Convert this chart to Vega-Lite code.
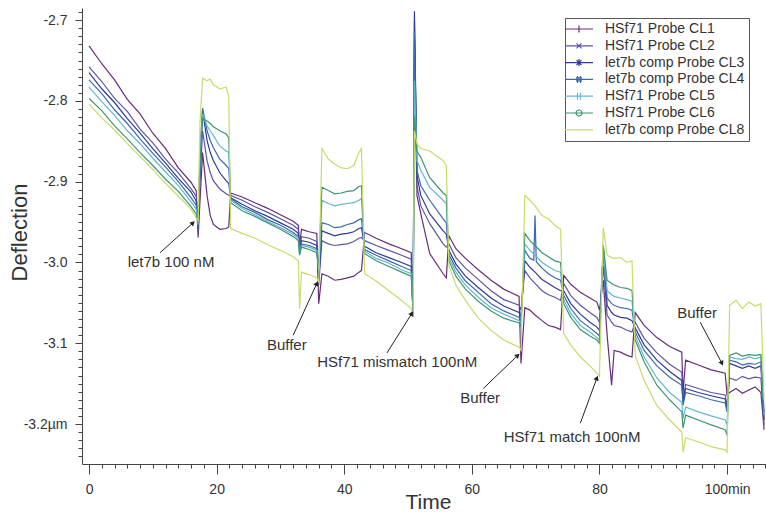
{
"$schema":"https://vega.github.io/schema/vega-lite/v6.json",
"width":684,"height":456,
"autosize":{"type":"none"},
"padding":{"left":82,"top":8,"right":0,"bottom":49},
"background":"white",
"config":{"view":{"stroke":null},"font":"Liberation Sans"},
"datasets":{
"series":[
{"s":"CL1","t":0,"v":-2.732},{"s":"CL1","t":2,"v":-2.754},{"s":"CL1","t":4,"v":-2.774},{"s":"CL1","t":6,"v":-2.798},{"s":"CL1","t":8,"v":-2.816},{"s":"CL1","t":10,"v":-2.840},{"s":"CL1","t":12,"v":-2.859},{"s":"CL1","t":14,"v":-2.883},{"s":"CL1","t":16,"v":-2.901},{"s":"CL1","t":16.8,"v":-2.911},
{"s":"CL1","t":17.1,"v":-2.969},{"s":"CL1","t":17.4,"v":-2.923},{"s":"CL1","t":17.8,"v":-2.864},{"s":"CL1","t":18.5,"v":-2.917},{"s":"CL1","t":19,"v":-2.942},{"s":"CL1","t":19.5,"v":-2.953},{"s":"CL1","t":20.5,"v":-2.959},{"s":"CL1","t":21.5,"v":-2.958},{"s":"CL1","t":21.9,"v":-2.956},
{"s":"CL1","t":22.2,"v":-2.914},{"s":"CL1","t":24,"v":-2.919},{"s":"CL1","t":26,"v":-2.926},{"s":"CL1","t":28,"v":-2.933},{"s":"CL1","t":30,"v":-2.941},{"s":"CL1","t":32,"v":-2.949},{"s":"CL1","t":32.8,"v":-2.954},
{"s":"CL1","t":33,"v":-2.979},{"s":"CL1","t":33.3,"v":-2.959},{"s":"CL1","t":34.5,"v":-2.962},{"s":"CL1","t":35.7,"v":-2.964},
{"s":"CL1","t":36,"v":-3.051},{"s":"CL1","t":36.5,"v":-3.014},{"s":"CL1","t":37.5,"v":-3.017},{"s":"CL1","t":38.5,"v":-3.022},{"s":"CL1","t":39.5,"v":-3.021},{"s":"CL1","t":40.5,"v":-3.019},{"s":"CL1","t":41.5,"v":-3.017},{"s":"CL1","t":42.3,"v":-3.012},{"s":"CL1","t":42.7,"v":-3.010},
{"s":"CL1","t":43.2,"v":-2.963},{"s":"CL1","t":45,"v":-2.970},{"s":"CL1","t":47,"v":-2.977},{"s":"CL1","t":49,"v":-2.983},{"s":"CL1","t":50.5,"v":-2.988},
{"s":"CL1","t":50.8,"v":-3.067},{"s":"CL1","t":51,"v":-2.726},{"s":"CL1","t":51.4,"v":-2.917},{"s":"CL1","t":52,"v":-2.940},{"s":"CL1","t":53.4,"v":-2.989},{"s":"CL1","t":55.5,"v":-3.014},{"s":"CL1","t":56,"v":-3.019},
{"s":"CL1","t":56.4,"v":-2.967},{"s":"CL1","t":57.5,"v":-2.983},{"s":"CL1","t":59,"v":-2.995},{"s":"CL1","t":61,"v":-3.009},{"s":"CL1","t":63,"v":-3.022},{"s":"CL1","t":65,"v":-3.033},{"s":"CL1","t":67.4,"v":-3.042},
{"s":"CL1","t":67.7,"v":-3.125},{"s":"CL1","t":68.3,"v":-3.056},{"s":"CL1","t":69.1,"v":-3.059},{"s":"CL1","t":69.9,"v":-3.065},{"s":"CL1","t":71,"v":-3.072},{"s":"CL1","t":72,"v":-3.078},{"s":"CL1","t":73,"v":-3.080},{"s":"CL1","t":73.9,"v":-3.083},
{"s":"CL1","t":74.4,"v":-3.016},{"s":"CL1","t":75.5,"v":-3.027},{"s":"CL1","t":77,"v":-3.037},{"s":"CL1","t":78.5,"v":-3.044},{"s":"CL1","t":79.6,"v":-3.049},
{"s":"CL1","t":80,"v":-3.059},{"s":"CL1","t":80.6,"v":-3.022},{"s":"CL1","t":81.2,"v":-3.090},{"s":"CL1","t":81.9,"v":-3.152},{"s":"CL1","t":82.3,"v":-3.109},{"s":"CL1","t":83.3,"v":-3.111},{"s":"CL1","t":84.3,"v":-3.115},{"s":"CL1","t":85.1,"v":-3.117},
{"s":"CL1","t":85.6,"v":-3.062},{"s":"CL1","t":87,"v":-3.078},{"s":"CL1","t":89,"v":-3.093},{"s":"CL1","t":91,"v":-3.104},{"s":"CL1","t":92.9,"v":-3.111},
{"s":"CL1","t":93.1,"v":-3.162},{"s":"CL1","t":93.5,"v":-3.121},{"s":"CL1","t":95.5,"v":-3.127},{"s":"CL1","t":97.5,"v":-3.133},{"s":"CL1","t":99.7,"v":-3.137},
{"s":"CL1","t":100,"v":-3.164},{"s":"CL1","t":100.4,"v":-3.161},{"s":"CL1","t":101.4,"v":-3.156},{"s":"CL1","t":102.4,"v":-3.162},{"s":"CL1","t":103.4,"v":-3.158},{"s":"CL1","t":104.4,"v":-3.154},{"s":"CL1","t":105.3,"v":-3.161},{"s":"CL1","t":105.8,"v":-3.207},
{"s":"CL2","t":0,"v":-2.758},{"s":"CL2","t":2,"v":-2.776},{"s":"CL2","t":4,"v":-2.797},{"s":"CL2","t":6,"v":-2.813},{"s":"CL2","t":8,"v":-2.835},{"s":"CL2","t":10,"v":-2.852},{"s":"CL2","t":12,"v":-2.872},{"s":"CL2","t":14,"v":-2.889},{"s":"CL2","t":16,"v":-2.909},{"s":"CL2","t":16.8,"v":-2.918},
{"s":"CL2","t":17.1,"v":-2.961},{"s":"CL2","t":17.4,"v":-2.899},{"s":"CL2","t":17.8,"v":-2.837},{"s":"CL2","t":18.5,"v":-2.874},{"s":"CL2","t":19,"v":-2.889},{"s":"CL2","t":19.5,"v":-2.899},{"s":"CL2","t":20.5,"v":-2.909},{"s":"CL2","t":21.5,"v":-2.915},{"s":"CL2","t":21.9,"v":-2.917},
{"s":"CL2","t":22.2,"v":-2.917},{"s":"CL2","t":24,"v":-2.923},{"s":"CL2","t":26,"v":-2.931},{"s":"CL2","t":28,"v":-2.938},{"s":"CL2","t":30,"v":-2.946},{"s":"CL2","t":32,"v":-2.954},{"s":"CL2","t":32.8,"v":-2.959},
{"s":"CL2","t":33,"v":-2.983},{"s":"CL2","t":33.3,"v":-2.968},{"s":"CL2","t":34.5,"v":-2.970},{"s":"CL2","t":35.7,"v":-2.974},
{"s":"CL2","t":36,"v":-3.028},{"s":"CL2","t":36.5,"v":-2.973},{"s":"CL2","t":37.5,"v":-2.977},{"s":"CL2","t":38.5,"v":-2.979},{"s":"CL2","t":39.5,"v":-2.978},{"s":"CL2","t":40.5,"v":-2.977},{"s":"CL2","t":41.5,"v":-2.974},{"s":"CL2","t":42.3,"v":-2.970},{"s":"CL2","t":42.7,"v":-2.969},
{"s":"CL2","t":43.2,"v":-2.973},{"s":"CL2","t":45,"v":-2.979},{"s":"CL2","t":47,"v":-2.985},{"s":"CL2","t":49,"v":-2.991},{"s":"CL2","t":50.5,"v":-2.996},
{"s":"CL2","t":50.8,"v":-3.067},{"s":"CL2","t":51,"v":-2.701},{"s":"CL2","t":51.4,"v":-2.905},{"s":"CL2","t":52,"v":-2.930},{"s":"CL2","t":53.4,"v":-2.952},{"s":"CL2","t":55.5,"v":-2.977},{"s":"CL2","t":56,"v":-2.981},
{"s":"CL2","t":56.4,"v":-2.977},{"s":"CL2","t":57.5,"v":-2.994},{"s":"CL2","t":59,"v":-3.007},{"s":"CL2","t":61,"v":-3.021},{"s":"CL2","t":63,"v":-3.035},{"s":"CL2","t":65,"v":-3.046},{"s":"CL2","t":67.4,"v":-3.053},
{"s":"CL2","t":67.7,"v":-3.059},{"s":"CL2","t":68.3,"v":-3.010},{"s":"CL2","t":69.1,"v":-3.019},{"s":"CL2","t":69.9,"v":-3.026},{"s":"CL2","t":71,"v":-3.035},{"s":"CL2","t":72,"v":-3.040},{"s":"CL2","t":73,"v":-3.043},{"s":"CL2","t":73.9,"v":-3.047},
{"s":"CL2","t":74.4,"v":-3.026},{"s":"CL2","t":75.5,"v":-3.041},{"s":"CL2","t":77,"v":-3.053},{"s":"CL2","t":78.5,"v":-3.062},{"s":"CL2","t":79.6,"v":-3.068},
{"s":"CL2","t":80,"v":-3.074},{"s":"CL2","t":80.6,"v":-3.004},{"s":"CL2","t":81.2,"v":-3.065},{"s":"CL2","t":81.9,"v":-3.074},{"s":"CL2","t":82.3,"v":-3.078},{"s":"CL2","t":83.3,"v":-3.080},{"s":"CL2","t":84.3,"v":-3.084},{"s":"CL2","t":85.1,"v":-3.086},
{"s":"CL2","t":85.6,"v":-3.074},{"s":"CL2","t":87,"v":-3.094},{"s":"CL2","t":89,"v":-3.112},{"s":"CL2","t":91,"v":-3.126},{"s":"CL2","t":92.9,"v":-3.136},
{"s":"CL2","t":93.1,"v":-3.170},{"s":"CL2","t":93.5,"v":-3.151},{"s":"CL2","t":95.5,"v":-3.156},{"s":"CL2","t":97.5,"v":-3.161},{"s":"CL2","t":99.7,"v":-3.164},
{"s":"CL2","t":100,"v":-3.177},{"s":"CL2","t":100.4,"v":-3.143},{"s":"CL2","t":101.4,"v":-3.146},{"s":"CL2","t":102.4,"v":-3.141},{"s":"CL2","t":103.4,"v":-3.144},{"s":"CL2","t":104.4,"v":-3.142},{"s":"CL2","t":105.3,"v":-3.143},{"s":"CL2","t":105.8,"v":-3.201},
{"s":"CL3","t":0,"v":-2.765},{"s":"CL3","t":2,"v":-2.785},{"s":"CL3","t":4,"v":-2.802},{"s":"CL3","t":6,"v":-2.822},{"s":"CL3","t":8,"v":-2.840},{"s":"CL3","t":10,"v":-2.859},{"s":"CL3","t":12,"v":-2.877},{"s":"CL3","t":14,"v":-2.896},{"s":"CL3","t":16,"v":-2.913},{"s":"CL3","t":16.8,"v":-2.924},
{"s":"CL3","t":17.1,"v":-2.958},{"s":"CL3","t":17.4,"v":-2.874},{"s":"CL3","t":17.8,"v":-2.812},{"s":"CL3","t":18.5,"v":-2.849},{"s":"CL3","t":19,"v":-2.864},{"s":"CL3","t":19.5,"v":-2.874},{"s":"CL3","t":20.5,"v":-2.889},{"s":"CL3","t":21.5,"v":-2.899},{"s":"CL3","t":21.9,"v":-2.902},
{"s":"CL3","t":22.2,"v":-2.920},{"s":"CL3","t":24,"v":-2.928},{"s":"CL3","t":26,"v":-2.936},{"s":"CL3","t":28,"v":-2.943},{"s":"CL3","t":30,"v":-2.951},{"s":"CL3","t":32,"v":-2.959},{"s":"CL3","t":32.8,"v":-2.964},
{"s":"CL3","t":33,"v":-2.985},{"s":"CL3","t":33.3,"v":-2.973},{"s":"CL3","t":34.5,"v":-2.975},{"s":"CL3","t":35.7,"v":-2.979},
{"s":"CL3","t":36,"v":-3.022},{"s":"CL3","t":36.5,"v":-2.961},{"s":"CL3","t":37.5,"v":-2.964},{"s":"CL3","t":38.5,"v":-2.967},{"s":"CL3","t":39.5,"v":-2.965},{"s":"CL3","t":40.5,"v":-2.964},{"s":"CL3","t":41.5,"v":-2.962},{"s":"CL3","t":42.3,"v":-2.958},{"s":"CL3","t":42.7,"v":-2.957},
{"s":"CL3","t":43.2,"v":-2.980},{"s":"CL3","t":45,"v":-2.988},{"s":"CL3","t":47,"v":-2.994},{"s":"CL3","t":49,"v":-3.000},{"s":"CL3","t":50.5,"v":-3.005},
{"s":"CL3","t":50.8,"v":-3.065},{"s":"CL3","t":51,"v":-2.689},{"s":"CL3","t":51.4,"v":-2.893},{"s":"CL3","t":52,"v":-2.917},{"s":"CL3","t":53.4,"v":-2.940},{"s":"CL3","t":55.5,"v":-2.961},{"s":"CL3","t":56,"v":-2.965},
{"s":"CL3","t":56.4,"v":-2.985},{"s":"CL3","t":57.5,"v":-3.002},{"s":"CL3","t":59,"v":-3.017},{"s":"CL3","t":61,"v":-3.031},{"s":"CL3","t":63,"v":-3.044},{"s":"CL3","t":65,"v":-3.054},{"s":"CL3","t":67.4,"v":-3.062},
{"s":"CL3","t":67.7,"v":-3.067},{"s":"CL3","t":68.3,"v":-2.998},{"s":"CL3","t":69.1,"v":-3.006},{"s":"CL3","t":69.9,"v":-3.012},{"s":"CL3","t":71,"v":-3.021},{"s":"CL3","t":72,"v":-3.026},{"s":"CL3","t":73,"v":-3.031},{"s":"CL3","t":73.9,"v":-3.035},
{"s":"CL3","t":74.4,"v":-3.035},{"s":"CL3","t":75.5,"v":-3.051},{"s":"CL3","t":77,"v":-3.064},{"s":"CL3","t":78.5,"v":-3.074},{"s":"CL3","t":79.6,"v":-3.080},
{"s":"CL3","t":80,"v":-3.084},{"s":"CL3","t":80.6,"v":-2.979},{"s":"CL3","t":81.2,"v":-3.053},{"s":"CL3","t":81.9,"v":-3.062},{"s":"CL3","t":82.3,"v":-3.065},{"s":"CL3","t":83.3,"v":-3.068},{"s":"CL3","t":84.3,"v":-3.069},{"s":"CL3","t":85.1,"v":-3.072},
{"s":"CL3","t":85.6,"v":-3.081},{"s":"CL3","t":87,"v":-3.102},{"s":"CL3","t":89,"v":-3.121},{"s":"CL3","t":91,"v":-3.135},{"s":"CL3","t":92.9,"v":-3.146},
{"s":"CL3","t":93.1,"v":-3.173},{"s":"CL3","t":93.5,"v":-3.156},{"s":"CL3","t":95.5,"v":-3.161},{"s":"CL3","t":97.5,"v":-3.165},{"s":"CL3","t":99.7,"v":-3.169},
{"s":"CL3","t":100,"v":-3.183},{"s":"CL3","t":100.4,"v":-3.125},{"s":"CL3","t":101.4,"v":-3.128},{"s":"CL3","t":102.4,"v":-3.131},{"s":"CL3","t":103.4,"v":-3.128},{"s":"CL3","t":104.4,"v":-3.131},{"s":"CL3","t":105.3,"v":-3.128},{"s":"CL3","t":105.8,"v":-3.195},
{"s":"CL4","t":0,"v":-2.774},{"s":"CL4","t":2,"v":-2.791},{"s":"CL4","t":4,"v":-2.811},{"s":"CL4","t":6,"v":-2.828},{"s":"CL4","t":8,"v":-2.847},{"s":"CL4","t":10,"v":-2.865},{"s":"CL4","t":12,"v":-2.882},{"s":"CL4","t":14,"v":-2.900},{"s":"CL4","t":16,"v":-2.920},{"s":"CL4","t":16.8,"v":-2.929},
{"s":"CL4","t":17.1,"v":-2.956},{"s":"CL4","t":17.4,"v":-2.862},{"s":"CL4","t":17.8,"v":-2.809},{"s":"CL4","t":18.5,"v":-2.837},{"s":"CL4","t":19,"v":-2.849},{"s":"CL4","t":19.5,"v":-2.858},{"s":"CL4","t":20.5,"v":-2.872},{"s":"CL4","t":21.5,"v":-2.880},{"s":"CL4","t":21.9,"v":-2.884},
{"s":"CL4","t":22.2,"v":-2.921},{"s":"CL4","t":24,"v":-2.931},{"s":"CL4","t":26,"v":-2.938},{"s":"CL4","t":28,"v":-2.947},{"s":"CL4","t":30,"v":-2.954},{"s":"CL4","t":32,"v":-2.963},{"s":"CL4","t":32.8,"v":-2.968},
{"s":"CL4","t":33,"v":-2.988},{"s":"CL4","t":33.3,"v":-2.977},{"s":"CL4","t":34.5,"v":-2.979},{"s":"CL4","t":35.7,"v":-2.983},
{"s":"CL4","t":36,"v":-3.016},{"s":"CL4","t":36.5,"v":-2.951},{"s":"CL4","t":37.5,"v":-2.953},{"s":"CL4","t":38.5,"v":-2.957},{"s":"CL4","t":39.5,"v":-2.956},{"s":"CL4","t":40.5,"v":-2.953},{"s":"CL4","t":41.5,"v":-2.951},{"s":"CL4","t":42.3,"v":-2.947},{"s":"CL4","t":42.7,"v":-2.946},
{"s":"CL4","t":43.2,"v":-2.984},{"s":"CL4","t":45,"v":-2.991},{"s":"CL4","t":47,"v":-2.998},{"s":"CL4","t":49,"v":-3.005},{"s":"CL4","t":50.5,"v":-3.010},
{"s":"CL4","t":50.8,"v":-3.064},{"s":"CL4","t":51,"v":-2.714},{"s":"CL4","t":51.4,"v":-2.886},{"s":"CL4","t":52,"v":-2.905},{"s":"CL4","t":53.4,"v":-2.923},{"s":"CL4","t":55.5,"v":-2.946},{"s":"CL4","t":56,"v":-2.951},
{"s":"CL4","t":56.4,"v":-2.990},{"s":"CL4","t":57.5,"v":-3.007},{"s":"CL4","t":59,"v":-3.023},{"s":"CL4","t":61,"v":-3.037},{"s":"CL4","t":63,"v":-3.051},{"s":"CL4","t":65,"v":-3.060},{"s":"CL4","t":67.4,"v":-3.068},
{"s":"CL4","t":67.7,"v":-3.072},{"s":"CL4","t":68.3,"v":-2.985},{"s":"CL4","t":69.1,"v":-2.995},{"s":"CL4","t":69.7,"v":-2.997},{"s":"CL4","t":69.9,"v":-2.942},{"s":"CL4","t":70.1,"v":-2.999},{"s":"CL4","t":71,"v":-3.007},{"s":"CL4","t":72,"v":-3.014},{"s":"CL4","t":73,"v":-3.019},{"s":"CL4","t":73.9,"v":-3.022},
{"s":"CL4","t":74.4,"v":-3.041},{"s":"CL4","t":75.5,"v":-3.057},{"s":"CL4","t":77,"v":-3.072},{"s":"CL4","t":78.5,"v":-3.081},{"s":"CL4","t":79.6,"v":-3.088},
{"s":"CL4","t":80,"v":-3.091},{"s":"CL4","t":80.6,"v":-2.985},{"s":"CL4","t":81.2,"v":-3.044},{"s":"CL4","t":81.9,"v":-3.051},{"s":"CL4","t":82.3,"v":-3.053},{"s":"CL4","t":83.3,"v":-3.056},{"s":"CL4","t":84.3,"v":-3.057},{"s":"CL4","t":85.1,"v":-3.059},
{"s":"CL4","t":85.6,"v":-3.086},{"s":"CL4","t":87,"v":-3.109},{"s":"CL4","t":89,"v":-3.128},{"s":"CL4","t":91,"v":-3.142},{"s":"CL4","t":92.9,"v":-3.152},
{"s":"CL4","t":93.1,"v":-3.177},{"s":"CL4","t":93.5,"v":-3.161},{"s":"CL4","t":95.5,"v":-3.165},{"s":"CL4","t":97.5,"v":-3.170},{"s":"CL4","t":99.7,"v":-3.174},
{"s":"CL4","t":100,"v":-3.185},{"s":"CL4","t":100.4,"v":-3.121},{"s":"CL4","t":101.4,"v":-3.123},{"s":"CL4","t":102.4,"v":-3.127},{"s":"CL4","t":103.4,"v":-3.125},{"s":"CL4","t":104.4,"v":-3.126},{"s":"CL4","t":105.3,"v":-3.123},{"s":"CL4","t":105.8,"v":-3.193},
{"s":"CL5","t":0,"v":-2.783},{"s":"CL5","t":2,"v":-2.801},{"s":"CL5","t":4,"v":-2.818},{"s":"CL5","t":6,"v":-2.837},{"s":"CL5","t":8,"v":-2.853},{"s":"CL5","t":10,"v":-2.871},{"s":"CL5","t":12,"v":-2.888},{"s":"CL5","t":14,"v":-2.905},{"s":"CL5","t":16,"v":-2.925},{"s":"CL5","t":16.8,"v":-2.934},
{"s":"CL5","t":17.1,"v":-2.953},{"s":"CL5","t":17.4,"v":-2.862},{"s":"CL5","t":17.8,"v":-2.816},{"s":"CL5","t":18.5,"v":-2.831},{"s":"CL5","t":19,"v":-2.837},{"s":"CL5","t":19.5,"v":-2.843},{"s":"CL5","t":20.5,"v":-2.856},{"s":"CL5","t":21.5,"v":-2.862},{"s":"CL5","t":21.9,"v":-2.864},
{"s":"CL5","t":22.2,"v":-2.923},{"s":"CL5","t":24,"v":-2.933},{"s":"CL5","t":26,"v":-2.941},{"s":"CL5","t":28,"v":-2.949},{"s":"CL5","t":30,"v":-2.957},{"s":"CL5","t":32,"v":-2.965},{"s":"CL5","t":32.8,"v":-2.970},
{"s":"CL5","t":33,"v":-2.989},{"s":"CL5","t":33.3,"v":-2.979},{"s":"CL5","t":34.5,"v":-2.981},{"s":"CL5","t":35.7,"v":-2.985},
{"s":"CL5","t":36,"v":-3.010},{"s":"CL5","t":36.5,"v":-2.923},{"s":"CL5","t":37.5,"v":-2.927},{"s":"CL5","t":38.5,"v":-2.930},{"s":"CL5","t":39.5,"v":-2.928},{"s":"CL5","t":40.5,"v":-2.927},{"s":"CL5","t":41.5,"v":-2.926},{"s":"CL5","t":42.3,"v":-2.923},{"s":"CL5","t":42.7,"v":-2.921},
{"s":"CL5","t":43.2,"v":-2.986},{"s":"CL5","t":45,"v":-2.995},{"s":"CL5","t":47,"v":-3.001},{"s":"CL5","t":49,"v":-3.009},{"s":"CL5","t":50.5,"v":-3.014},
{"s":"CL5","t":50.8,"v":-3.063},{"s":"CL5","t":51,"v":-2.775},{"s":"CL5","t":51.4,"v":-2.874},{"s":"CL5","t":52,"v":-2.886},{"s":"CL5","t":53.4,"v":-2.907},{"s":"CL5","t":55.5,"v":-2.923},{"s":"CL5","t":56,"v":-2.927},
{"s":"CL5","t":56.4,"v":-2.994},{"s":"CL5","t":57.5,"v":-3.012},{"s":"CL5","t":59,"v":-3.028},{"s":"CL5","t":61,"v":-3.043},{"s":"CL5","t":63,"v":-3.056},{"s":"CL5","t":65,"v":-3.064},{"s":"CL5","t":67.4,"v":-3.072},
{"s":"CL5","t":67.7,"v":-3.075},{"s":"CL5","t":68.3,"v":-2.977},{"s":"CL5","t":69.1,"v":-2.985},{"s":"CL5","t":69.9,"v":-2.991},{"s":"CL5","t":71,"v":-3.000},{"s":"CL5","t":72,"v":-3.005},{"s":"CL5","t":73,"v":-3.010},{"s":"CL5","t":73.9,"v":-3.012},
{"s":"CL5","t":74.4,"v":-3.046},{"s":"CL5","t":75.5,"v":-3.063},{"s":"CL5","t":77,"v":-3.078},{"s":"CL5","t":78.5,"v":-3.086},{"s":"CL5","t":79.6,"v":-3.093},
{"s":"CL5","t":80,"v":-3.096},{"s":"CL5","t":80.6,"v":-2.983},{"s":"CL5","t":81.2,"v":-3.035},{"s":"CL5","t":81.9,"v":-3.040},{"s":"CL5","t":82.3,"v":-3.042},{"s":"CL5","t":83.3,"v":-3.044},{"s":"CL5","t":84.3,"v":-3.046},{"s":"CL5","t":85.1,"v":-3.048},
{"s":"CL5","t":85.6,"v":-3.091},{"s":"CL5","t":87,"v":-3.117},{"s":"CL5","t":89,"v":-3.143},{"s":"CL5","t":91,"v":-3.161},{"s":"CL5","t":92.9,"v":-3.173},
{"s":"CL5","t":93.1,"v":-3.193},{"s":"CL5","t":93.5,"v":-3.179},{"s":"CL5","t":95.5,"v":-3.185},{"s":"CL5","t":97.5,"v":-3.190},{"s":"CL5","t":99.7,"v":-3.195},
{"s":"CL5","t":100,"v":-3.201},{"s":"CL5","t":100.4,"v":-3.117},{"s":"CL5","t":101.4,"v":-3.119},{"s":"CL5","t":102.4,"v":-3.120},{"s":"CL5","t":103.4,"v":-3.117},{"s":"CL5","t":104.4,"v":-3.119},{"s":"CL5","t":105.3,"v":-3.117},{"s":"CL5","t":105.8,"v":-3.189},
{"s":"CL6","t":0,"v":-2.797},{"s":"CL6","t":2,"v":-2.812},{"s":"CL6","t":4,"v":-2.831},{"s":"CL6","t":6,"v":-2.847},{"s":"CL6","t":8,"v":-2.864},{"s":"CL6","t":10,"v":-2.880},{"s":"CL6","t":12,"v":-2.897},{"s":"CL6","t":14,"v":-2.912},{"s":"CL6","t":16,"v":-2.931},{"s":"CL6","t":16.8,"v":-2.940},
{"s":"CL6","t":17.1,"v":-2.951},{"s":"CL6","t":17.4,"v":-2.874},{"s":"CL6","t":17.8,"v":-2.822},{"s":"CL6","t":18.5,"v":-2.825},{"s":"CL6","t":19,"v":-2.828},{"s":"CL6","t":19.5,"v":-2.832},{"s":"CL6","t":20.5,"v":-2.837},{"s":"CL6","t":21.5,"v":-2.841},{"s":"CL6","t":21.9,"v":-2.846},
{"s":"CL6","t":22.2,"v":-2.926},{"s":"CL6","t":24,"v":-2.936},{"s":"CL6","t":26,"v":-2.943},{"s":"CL6","t":28,"v":-2.951},{"s":"CL6","t":30,"v":-2.959},{"s":"CL6","t":32,"v":-2.968},{"s":"CL6","t":32.8,"v":-2.973},
{"s":"CL6","t":33,"v":-2.991},{"s":"CL6","t":33.3,"v":-2.981},{"s":"CL6","t":34.5,"v":-2.984},{"s":"CL6","t":35.7,"v":-2.988},
{"s":"CL6","t":36,"v":-3.004},{"s":"CL6","t":36.5,"v":-2.907},{"s":"CL6","t":37.5,"v":-2.911},{"s":"CL6","t":38.5,"v":-2.915},{"s":"CL6","t":39.5,"v":-2.914},{"s":"CL6","t":40.5,"v":-2.912},{"s":"CL6","t":41.5,"v":-2.911},{"s":"CL6","t":42.3,"v":-2.906},{"s":"CL6","t":42.7,"v":-2.905},
{"s":"CL6","t":43.2,"v":-2.989},{"s":"CL6","t":45,"v":-2.998},{"s":"CL6","t":47,"v":-3.005},{"s":"CL6","t":49,"v":-3.012},{"s":"CL6","t":50.5,"v":-3.017},
{"s":"CL6","t":50.8,"v":-3.062},{"s":"CL6","t":51,"v":-2.819},{"s":"CL6","t":51.4,"v":-2.862},{"s":"CL6","t":52,"v":-2.870},{"s":"CL6","t":53.4,"v":-2.895},{"s":"CL6","t":55.5,"v":-2.914},{"s":"CL6","t":56,"v":-2.917},
{"s":"CL6","t":56.4,"v":-2.998},{"s":"CL6","t":57.5,"v":-3.017},{"s":"CL6","t":59,"v":-3.033},{"s":"CL6","t":61,"v":-3.048},{"s":"CL6","t":63,"v":-3.060},{"s":"CL6","t":65,"v":-3.069},{"s":"CL6","t":67.4,"v":-3.075},
{"s":"CL6","t":67.7,"v":-3.079},{"s":"CL6","t":68.3,"v":-2.964},{"s":"CL6","t":69.1,"v":-2.973},{"s":"CL6","t":69.9,"v":-2.979},{"s":"CL6","t":71,"v":-2.988},{"s":"CL6","t":72,"v":-2.993},{"s":"CL6","t":73,"v":-2.998},{"s":"CL6","t":73.9,"v":-3.000},
{"s":"CL6","t":74.4,"v":-3.051},{"s":"CL6","t":75.5,"v":-3.068},{"s":"CL6","t":77,"v":-3.083},{"s":"CL6","t":78.5,"v":-3.091},{"s":"CL6","t":79.6,"v":-3.096},
{"s":"CL6","t":80,"v":-3.100},{"s":"CL6","t":80.6,"v":-2.979},{"s":"CL6","t":81.2,"v":-3.022},{"s":"CL6","t":81.9,"v":-3.026},{"s":"CL6","t":82.3,"v":-3.028},{"s":"CL6","t":83.3,"v":-3.031},{"s":"CL6","t":84.3,"v":-3.032},{"s":"CL6","t":85.1,"v":-3.035},
{"s":"CL6","t":85.6,"v":-3.096},{"s":"CL6","t":87,"v":-3.123},{"s":"CL6","t":89,"v":-3.152},{"s":"CL6","t":91,"v":-3.170},{"s":"CL6","t":92.9,"v":-3.185},
{"s":"CL6","t":93.1,"v":-3.205},{"s":"CL6","t":93.5,"v":-3.189},{"s":"CL6","t":95.5,"v":-3.195},{"s":"CL6","t":97.5,"v":-3.201},{"s":"CL6","t":99.7,"v":-3.207},
{"s":"CL6","t":100,"v":-3.214},{"s":"CL6","t":100.4,"v":-3.115},{"s":"CL6","t":101.4,"v":-3.112},{"s":"CL6","t":102.4,"v":-3.116},{"s":"CL6","t":103.4,"v":-3.114},{"s":"CL6","t":104.4,"v":-3.115},{"s":"CL6","t":105.3,"v":-3.114},{"s":"CL6","t":105.8,"v":-3.185},
{"s":"CL8","t":0,"v":-2.804},{"s":"CL8","t":2,"v":-2.821},{"s":"CL8","t":4,"v":-2.836},{"s":"CL8","t":6,"v":-2.853},{"s":"CL8","t":8,"v":-2.869},{"s":"CL8","t":10,"v":-2.885},{"s":"CL8","t":12,"v":-2.902},{"s":"CL8","t":14,"v":-2.918},{"s":"CL8","t":16,"v":-2.934},{"s":"CL8","t":16.8,"v":-2.945},
{"s":"CL8","t":17.1,"v":-2.948},{"s":"CL8","t":17.4,"v":-2.825},{"s":"CL8","t":17.8,"v":-2.772},{"s":"CL8","t":18.5,"v":-2.775},{"s":"CL8","t":19,"v":-2.773},{"s":"CL8","t":19.5,"v":-2.780},{"s":"CL8","t":20.5,"v":-2.785},{"s":"CL8","t":21.5,"v":-2.783},{"s":"CL8","t":21.9,"v":-2.794},
{"s":"CL8","t":22.2,"v":-2.958},{"s":"CL8","t":24,"v":-2.964},{"s":"CL8","t":26,"v":-2.970},{"s":"CL8","t":28,"v":-2.978},{"s":"CL8","t":30,"v":-2.985},{"s":"CL8","t":32,"v":-2.993},{"s":"CL8","t":32.8,"v":-2.998},
{"s":"CL8","t":33,"v":-3.057},{"s":"CL8","t":33.3,"v":-3.012},{"s":"CL8","t":34.5,"v":-3.015},{"s":"CL8","t":35.7,"v":-3.019},
{"s":"CL8","t":36,"v":-3.025},{"s":"CL8","t":36.5,"v":-2.859},{"s":"CL8","t":37.5,"v":-2.872},{"s":"CL8","t":38.5,"v":-2.878},{"s":"CL8","t":39.5,"v":-2.883},{"s":"CL8","t":40.5,"v":-2.884},{"s":"CL8","t":41.5,"v":-2.880},{"s":"CL8","t":42.3,"v":-2.864},{"s":"CL8","t":42.7,"v":-2.859},
{"s":"CL8","t":43.2,"v":-3.014},{"s":"CL8","t":45,"v":-3.023},{"s":"CL8","t":47,"v":-3.035},{"s":"CL8","t":49,"v":-3.047},{"s":"CL8","t":50.5,"v":-3.057},
{"s":"CL8","t":50.8,"v":-3.067},{"s":"CL8","t":51,"v":-2.837},{"s":"CL8","t":51.4,"v":-2.853},{"s":"CL8","t":52,"v":-2.859},{"s":"CL8","t":53.4,"v":-2.862},{"s":"CL8","t":55.5,"v":-2.874},{"s":"CL8","t":56,"v":-2.880},
{"s":"CL8","t":56.4,"v":-3.004},{"s":"CL8","t":57.5,"v":-3.028},{"s":"CL8","t":59,"v":-3.047},{"s":"CL8","t":61,"v":-3.069},{"s":"CL8","t":63,"v":-3.084},{"s":"CL8","t":65,"v":-3.096},{"s":"CL8","t":67.4,"v":-3.105},
{"s":"CL8","t":67.7,"v":-3.109},{"s":"CL8","t":68.3,"v":-2.917},{"s":"CL8","t":69.1,"v":-2.923},{"s":"CL8","t":69.9,"v":-2.930},{"s":"CL8","t":71,"v":-2.942},{"s":"CL8","t":72,"v":-2.946},{"s":"CL8","t":73,"v":-2.954},{"s":"CL8","t":73.9,"v":-2.959},
{"s":"CL8","t":74.4,"v":-3.088},{"s":"CL8","t":75.5,"v":-3.102},{"s":"CL8","t":77,"v":-3.117},{"s":"CL8","t":78.5,"v":-3.128},{"s":"CL8","t":79.6,"v":-3.137},
{"s":"CL8","t":80,"v":-3.141},{"s":"CL8","t":80.6,"v":-2.957},{"s":"CL8","t":81.2,"v":-2.991},{"s":"CL8","t":81.9,"v":-2.994},{"s":"CL8","t":82.3,"v":-2.995},{"s":"CL8","t":83.3,"v":-2.994},{"s":"CL8","t":84.3,"v":-3.000},{"s":"CL8","t":85.1,"v":-2.998},
{"s":"CL8","t":85.6,"v":-3.115},{"s":"CL8","t":87,"v":-3.146},{"s":"CL8","t":89,"v":-3.177},{"s":"CL8","t":91,"v":-3.195},{"s":"CL8","t":92.9,"v":-3.210},
{"s":"CL8","t":93.1,"v":-3.235},{"s":"CL8","t":93.5,"v":-3.217},{"s":"CL8","t":95.5,"v":-3.222},{"s":"CL8","t":97.5,"v":-3.228},{"s":"CL8","t":99.7,"v":-3.232},
{"s":"CL8","t":100,"v":-3.235},{"s":"CL8","t":100.4,"v":-3.053},{"s":"CL8","t":101.4,"v":-3.047},{"s":"CL8","t":102.4,"v":-3.057},{"s":"CL8","t":103.4,"v":-3.049},{"s":"CL8","t":104.4,"v":-3.054},{"s":"CL8","t":105.3,"v":-3.051},{"s":"CL8","t":105.8,"v":-3.170}
],
"notes":[
{"label":"let7b 100 nM","t":12.85,"v":-3.000},
{"label":"Buffer","t":31.0,"v":-3.102},
{"label":"HSf71 mismatch 100nM","t":48.3,"v":-3.123},
{"label":"Buffer","t":61.3,"v":-3.168},
{"label":"HSf71 match 100nM","t":75.7,"v":-3.216},
{"label":"Buffer","t":95.3,"v":-3.063}
],
"arrows":[
{"id":1,"t":11.13,"v":-2.988,"t2":16.3,"v2":-2.951},
{"id":2,"t":32.0,"v":-3.090,"t2":35.7,"v2":-3.026},
{"id":3,"t":46.7,"v":-3.112,"t2":50.6,"v2":-3.063},
{"id":4,"t":61.8,"v":-3.156,"t2":67.2,"v2":-3.115},
{"id":5,"t":77.0,"v":-3.199,"t2":79.6,"v2":-3.143},
{"id":6,"t":95.8,"v":-3.074,"t2":99.2,"v2":-3.125}
],
"heads":[
{"id":1,"t":16.3,"v":-2.951},
{"id":2,"t":35.7,"v":-3.026},
{"id":3,"t":50.6,"v":-3.063},
{"id":4,"t":67.2,"v":-3.115},
{"id":5,"t":79.6,"v":-3.143},
{"id":6,"t":99.2,"v":-3.125}
]
},
"encoding":{
  "x":{"field":"t","type":"quantitative","scale":{"domain":[-1.1,106.1],"nice":false,"zero":false},
   "axis":{"title":"Time","titleFont":"Liberation Sans","titleFontSize":21,"titleFontWeight":"normal","titleColor":"#333","titleBaseline":"middle","titleX":346,"titleY":38,
    "values":[0,2,4,6,8,10,12,14,16,18,20,22,24,26,28,30,32,34,36,38,40,42,44,46,48,50,52,54,56,58,60,62,64,66,68,70,72,74,76,78,80,82,84,86,88,90,92,94,96,98,100,102,104,106],
    "labelExpr":"datum.value % 20 === 0 ? (datum.value === 100 ? '100min' : '' + datum.value) : ''",
    "labelFont":"Liberation Sans","labelFontSize":14,"labelColor":"#333","labelPadding":8,"labelOverlap":false,"labelFlush":false,"labelBound":false,
    "domainColor":"#444","domainWidth":1,"tickColor":"#444","tickWidth":1,"grid":false,
    "tickSize":{"condition":{"test":"datum.value % 20 === 0","value":10},"value":4}}},
  "y":{"field":"v","type":"quantitative","scale":{"domain":[-3.2495,-2.685],"nice":false,"zero":false},
   "axis":{"title":"Deflection","titleFont":"Liberation Sans","titleFontSize":22,"titleFontWeight":"normal","titleColor":"#333","titleBaseline":"middle","titleX":-63,"titleY":224,
    "values":[-2.69,-2.7,-2.71,-2.72,-2.73,-2.74,-2.75,-2.76,-2.77,-2.78,-2.79,-2.8,-2.81,-2.82,-2.83,-2.84,-2.85,-2.86,-2.87,-2.88,-2.89,-2.9,-2.91,-2.92,-2.93,-2.94,-2.95,-2.96,-2.97,-2.98,-2.99,-3.0,-3.01,-3.02,-3.03,-3.04,-3.05,-3.06,-3.07,-3.08,-3.09,-3.1,-3.11,-3.12,-3.13,-3.14,-3.15,-3.16,-3.17,-3.18,-3.19,-3.2,-3.21,-3.22,-3.23,-3.24],
    "labelExpr":"abs(round(datum.value*100)) % 10 === 0 ? (abs(round(datum.value*100)) === 320 ? '-3.2µm' : '-' + format(abs(datum.value), '.1f')) : ''",
    "labelFont":"Liberation Sans","labelFontSize":14,"labelColor":"#333","labelPadding":8,"labelOverlap":false,"labelFlush":false,"labelBound":false,
    "domainColor":"#444","domainWidth":1,"tickColor":"#444","tickWidth":1,"grid":false,
    "tickSize":{"condition":{"test":"abs(round(datum.value*100)) % 10 === 0","value":7},"value":4}}}
},
"layer":[
{"data":{"name":"series"},
 "mark":{"type":"line","strokeWidth":1.2,"clip":true},
 "encoding":{
  "color":{"field":"s","type":"nominal",
   "scale":{"domain":["CL1","CL2","CL3","CL4","CL5","CL6","CL8"],"range":["#662d78","#5d55a6","#2f3b94","#3b68b2","#62b6d2","#3d9670","#c9db6a"]},
   "legend":{"orient":"none","legendX":483,"legendY":10,"title":null,"labelFont":"Liberation Sans","labelFontSize":14,"labelColor":"#333",
    "strokeColor":"#555","fillColor":"white","padding":4,"rowPadding":2.8,"symbolSize":100,"symbolStrokeWidth":1.2,"symbolOffset":3,"labelOffset":19,
    "symbolType":"M-2.8,0H2.8",
    "labelExpr":"datum.label === 'CL1' ? 'HSf71 Probe CL1' : datum.label === 'CL2' ? 'HSf71 Probe CL2' : datum.label === 'CL3' ? 'let7b comp Probe CL3' : datum.label === 'CL4' ? 'let7b comp Probe CL4' : datum.label === 'CL5' ? 'HSf71 Probe CL5' : datum.label === 'CL6' ? 'HSf71 Probe CL6' : 'let7b comp Probe CL8'",
    "encode":{"symbols":{"update":{"fill":{"value":"transparent"},"shape":{"signal":"datum.value === 'CL1' ? 'M-2.8,0H2.8M0,-0.7V0.7' : datum.value === 'CL2' ? 'M-2.8,0H2.8M-0.5,-0.5L0.5,0.5M-0.5,0.5L0.5,-0.5' : datum.value === 'CL3' ? 'M-2.8,0H2.8M-0.5,-0.5L0.5,0.5M-0.5,0.5L0.5,-0.5M0,-0.7V0.7' : datum.value === 'CL4' ? 'M-2.8,0H2.8M-0.3,-0.7V0.7M0.3,-0.7V0.7M-0.6,-0.3H0.6M-0.6,0.3H0.6' : datum.value === 'CL5' ? 'M-2.8,0H2.8M-0.3,-0.7V0.7M0.3,-0.7V0.7' : datum.value === 'CL6' ? 'M-2.8,0H2.8M0.6,0A0.6,0.6 0 1 1 -0.6,0A0.6,0.6 0 1 1 0.6,0' : 'M-2.8,0H2.8'"}}}}}
 }}},
{"data":{"name":"arrows"},
 "mark":{"type":"rule","color":"#222","strokeWidth":1},
 "encoding":{"x2":{"field":"t2"},"y2":{"field":"v2"}}},
{"data":{"name":"heads"},
 "mark":{"type":"point","shape":"triangle-up","filled":true,"color":"#222","size":30,"opacity":1},
 "encoding":{
  "angle":{"condition":[{"test":"datum.id === 1","value":48},{"test":"datum.id === 2","value":25},{"test":"datum.id === 3","value":32},{"test":"datum.id === 4","value":47},{"test":"datum.id === 5","value":21},{"test":"datum.id === 6","value":152}],"value":0}}},
{"data":{"name":"notes"},
 "mark":{"type":"text","fontSize":15,"color":"#333","font":"Liberation Sans","align":"center","baseline":"middle"},
 "encoding":{"text":{"field":"label"}}}
]
}
